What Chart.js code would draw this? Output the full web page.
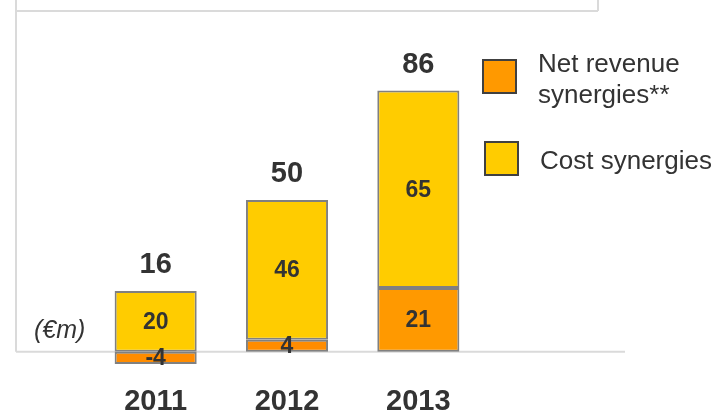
<!DOCTYPE html>
<html>
<head>
<meta charset="utf-8">
<script src="https://cdn.jsdelivr.net/npm/chart.js@4"></script>
<style>
  body { margin: 0; background: #fff; }
  #wrap { width: 717px; height: 412px; position: relative; }
</style>
</head>
<body>
<div id="wrap"><canvas id="myChart"></canvas></div>
<script>
const years = ['2011', '2012', '2013'];
const netRevenue = [-4, 4, 21];
const costSynergies = [20, 46, 65];
const totals = [16, 50, 86];
const seriesNames = ['Net revenue\nsynergies**', 'Cost synergies'];

const FONT = '"Liberation Sans", Arial, sans-serif';
const TEXT = '#333333';
const FRAME = '#dadada';

// frame lines, value labels and the legend on the side
const decorations = {
    id: 'decorations',
    beforeDatasetsDraw(chart) {
        const ctx = chart.ctx;
        const y0 = chart.scales.y.getPixelForValue(0);
        ctx.save();
        ctx.strokeStyle = FRAME;
        ctx.lineWidth = 2;
        ctx.beginPath();
        ctx.moveTo(16, 0); ctx.lineTo(16, y0);
        ctx.moveTo(16, y0); ctx.lineTo(625, y0);
        ctx.moveTo(16, 11); ctx.lineTo(598, 11);
        ctx.moveTo(598, 0); ctx.lineTo(598, 11);
        ctx.stroke();
        ctx.restore();
    },
    afterDatasetsDraw(chart) {
        const ctx = chart.ctx;
        ctx.save();
        ctx.fillStyle = TEXT;
        ctx.textAlign = 'center';
        ctx.textBaseline = 'middle';
        ctx.font = 'bold 23px ' + FONT;
        chart.data.datasets.forEach((ds, i) => {
            chart.getDatasetMeta(i).data.forEach((el, j) => {
                ctx.fillText(String(ds.data[j]), el.x, (el.y + el.base) / 2 + 1);
            });
        });
        // totals on top
        ctx.font = 'bold 29px ' + FONT;
        ctx.textBaseline = 'alphabetic';
        chart.getDatasetMeta(1).data.forEach((el, j) => {
            ctx.fillText(String(totals[j]), el.x, el.y - 18);
        });
        // unit
        ctx.font = 'italic 25px ' + FONT;
        ctx.textAlign = 'left';
        ctx.textBaseline = 'middle';
        ctx.fillText('(€m)', 34, 331);

        // legend
        const boxes = [{ x: 483, y: 60 }, { x: 485, y: 142 }];
        const textPos = [{ x: 538, y: 72 }, { x: 540, y: 169 }];
        ctx.font = '26px ' + FONT;
        ctx.textBaseline = 'alphabetic';
        chart.data.datasets.forEach((ds, i) => {
            ctx.fillStyle = ds.legendColor;
            ctx.fillRect(boxes[i].x, boxes[i].y, 33, 33);
            ctx.strokeStyle = '#404040';
            ctx.lineWidth = 2;
            ctx.strokeRect(boxes[i].x, boxes[i].y, 33, 33);
            ctx.fillStyle = TEXT;
            seriesNames[i].split('\n').forEach((line, k) => {
                ctx.fillText(line, textPos[i].x, textPos[i].y + k * 31);
            });
        });
        ctx.restore();
    }
};

new Chart(document.getElementById('myChart'), {
    type: 'bar',
    data: {
        labels: years,
        datasets: [{
            label: 'Net revenue synergies**',
            data: netRevenue,
            backgroundColor: ['#ff8c00', '#ff8c00', '#ff9900'],
            legendColor: '#ff9900',
            borderColor: '#808080',
            borderWidth: 2,
            borderSkipped: false,
            barPercentage: 0.625,
            categoryPercentage: 1
        }, {
            label: 'Cost synergies',
            data: costSynergies,
            backgroundColor: '#ffcc00',
            legendColor: '#ffcc00',
            borderColor: '#808080',
            borderWidth: 2,
            borderSkipped: false,
            barPercentage: 0.625,
            categoryPercentage: 1
        }]
    },
    options: {
        responsive: true,
        maintainAspectRatio: false,
        animation: false,
        layout: { padding: { left: 90, right: 233, top: 48, bottom: -24 } },
        plugins: {
            legend: { display: false },
            tooltip: { enabled: false }
        },
        scales: {
            x: {
                stacked: true,
                grid: { display: false, drawTicks: false },
                border: { display: false },
                ticks: {
                    color: TEXT,
                    font: { family: FONT, size: 29, weight: 'bold', lineHeight: 1 },
                    padding: 20
                }
            },
            y: {
                stacked: true,
                display: false,
                min: -5,
                max: 100
            }
        }
    },
    plugins: [decorations]
});
</script>
</body>
</html>
